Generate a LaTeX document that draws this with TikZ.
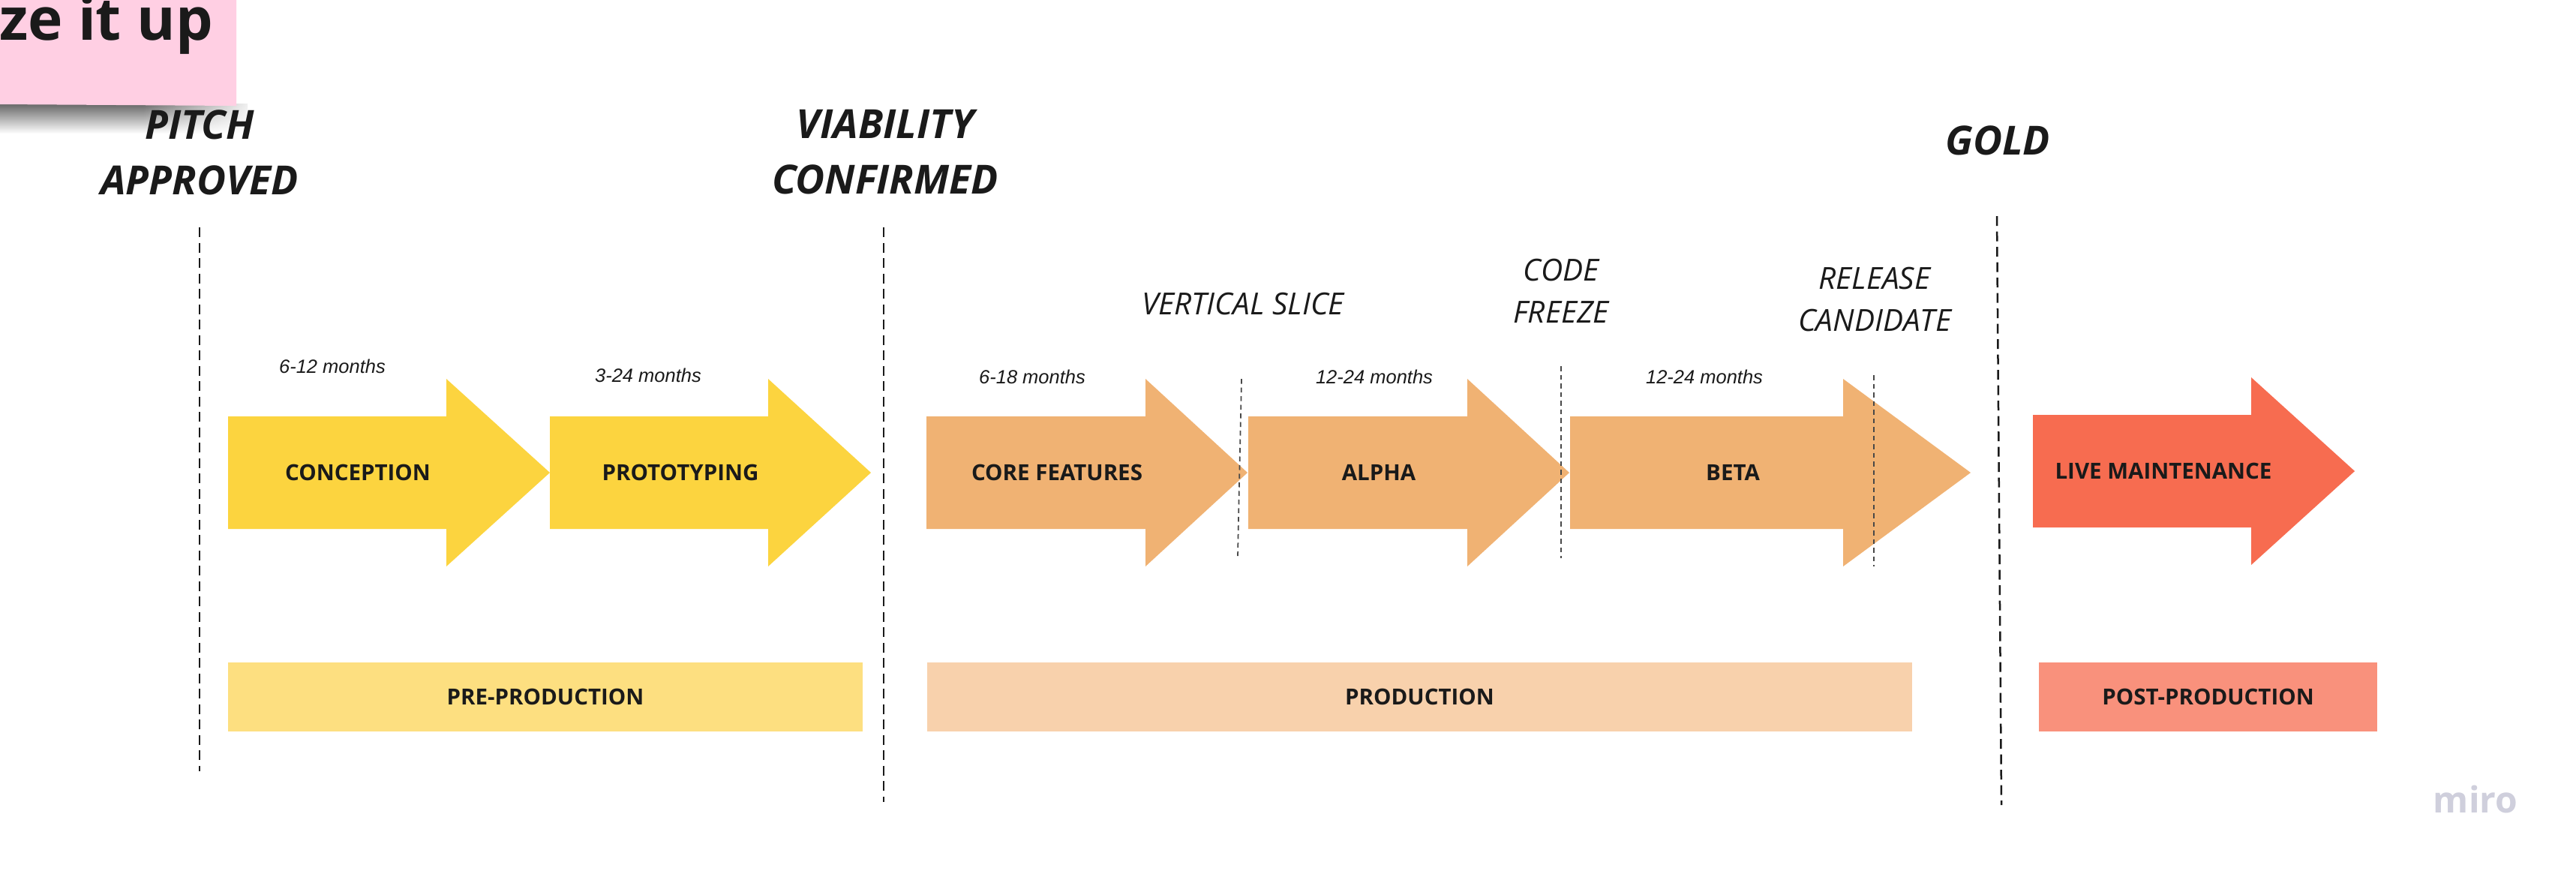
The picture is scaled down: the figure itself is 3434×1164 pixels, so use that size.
\documentclass[tikz,border=0pt]{standalone}
\usepackage{fontspec}
\setmainfont{Open Sans}
\newfontfamily\monthsfont{Liberation Sans}
\usepackage{tikz}
\usetikzlibrary{fadings}

\definecolor{inkblack}{HTML}{1A1A1A}
\definecolor{stickypink}{HTML}{FFCFE3}
\definecolor{preyellow}{HTML}{FCD43F}
\definecolor{prodorange}{HTML}{F0B273}
\definecolor{postred}{HTML}{F76C50}
\definecolor{prebar}{HTML}{FDDF80}
\definecolor{prodbar}{HTML}{F8D1AC}
\definecolor{postbar}{HTML}{F9917C}
\definecolor{mirogrey}{HTML}{CFCFDC}

\newcommand{\phasearrow}[5]{\fill[#1] (#2,#5-75) -- (#3,#5-75) -- (#3,#5-125) -- (#4,#5) -- (#3,#5+125) -- (#3,#5+75) -- (#2,#5+75) -- cycle;}

\tikzset{
	gate/.style={anchor=base, inner sep=0, align=center, text=inkblack, font=\fontsize{10.7}{14.7}\selectfont\bfseries\itshape},
	milestone/.style={anchor=base, inner sep=0, align=center, text=inkblack, font=\fontsize{8.1}{11.2}\selectfont\itshape},
	months/.style={anchor=base, inner sep=0, text=inkblack, font=\fontsize{5.1}{6}\selectfont\monthsfont\itshape},
	phase/.style={anchor=base, inner sep=0, text=inkblack, font=\fontsize{5.9}{7}\selectfont\bfseries},
	stagebar/.style={inner sep=0, minimum height=18.4pt, text=inkblack, font=\fontsize{5.9}{7}\selectfont\bfseries},
	gateline/.style={draw=inkblack, line width=0.5pt, dash pattern=on 2.6pt off 1.5pt},
	sliceline/.style={draw=inkblack!80, line width=0.35pt, dash pattern=on 1.3pt off 1pt},
	stickyshadow/.style={top color=black!60, middle color=black!22, bottom color=white},
}

\begin{document}
\begin{tikzpicture}[x=0.2pt, y=-0.2pt]
	\clip (0,0) rectangle (3434,1164);
	\fill[white] (0,0) rectangle (3434,1164);

	% sticky note
	\shade[stickyshadow] (0,138) rectangle (330,178);
	\shade[left color=white, right color=white, path fading=west] (190,136) rectangle (345,180);
	\fill[stickypink] (0,0) -- (315,0) -- (315,141) -- (0,139) -- cycle;
	\node[anchor=base west, inner sep=0, text=inkblack, font=\fontsize{15.7}{18}\selectfont\bfseries] (sticky) at (-2,53) {ze it up};

	% arrows
	\phasearrow{preyellow}{304}{595}{733}{630}
	\phasearrow{preyellow}{733}{1024}{1161}{630}
	\phasearrow{prodorange}{1235}{1527}{1663}{630}
	\phasearrow{prodorange}{1664}{1956}{2092}{630}
	\phasearrow{prodorange}{2093}{2457}{2627}{630}
	\phasearrow{postred}{2710}{3001}{3139}{628}

	% phase names
	\node[phase] (conception) at (477,640) {CONCEPTION};
	\node[phase] (prototyping) at (907,640) {PROTOTYPING};
	\node[phase] (core) at (1409,640) {CORE FEATURES};
	\node[phase] (alpha) at (1838,640) {ALPHA};
	\node[phase] (beta) at (2310,640) {BETA};
	\node[phase] (live) at (2884,638) {LIVE MAINTENANCE};

	% durations
	\node[months] (m1) at (443,497) {6-12 months};
	\node[months] (m2) at (864,509) {3-24 months};
	\node[months] (m3) at (1376,511) {6-18 months};
	\node[months] (m4) at (1832,511) {12-24 months};
	\node[months] (m5) at (2272,511) {12-24 months};

	% bars
	\node[stagebar, fill=prebar, minimum width=169.2pt] (pre) at (727,929) {PRE-PRODUCTION};
	\node[stagebar, fill=prodbar, minimum width=262.6pt] (prod) at (1892.5,929) {PRODUCTION};
	\node[stagebar, fill=postbar, minimum width=90.2pt] (post) at (2943.5,929) {POST-PRODUCTION};

	% gates
	\node[gate] (pitch) at (266,259) {PITCH\\APPROVED};
	\node[gate] (viable) at (1180,258) {VIABILITY\\CONFIRMED};
	\node[gate] (gold) at (2663,206) {GOLD};

	% milestones
	\node[milestone] (slice) at (1657,419) {VERTICAL SLICE};
	\node[milestone] (freeze) at (2081,430) {CODE\\FREEZE};
	\node[milestone] (candidate) at (2499,441) {RELEASE\\CANDIDATE};

	\coordinate (g1a) at (266,303);
	\coordinate (g1b) at (266,1028);
	\coordinate (g2a) at (1178,303);
	\coordinate (g2b) at (1178,1069);
	\coordinate (g3a) at (2662,288);
	\coordinate (g3b) at (2668,1073);
	\coordinate (s1a) at (1655,505);
	\coordinate (s1b) at (1650,741);
	\coordinate (s2a) at (2081,488);
	\coordinate (s2b) at (2081,744);
	\coordinate (s3a) at (2498,500);
	\coordinate (s3b) at (2498,755);
	\draw[gateline] (g1a) -- (g1b);
	\draw[gateline] (g2a) -- (g2b);
	\draw[gateline] (g3a) -- (g3b);
	\draw[sliceline] (s1a) -- (s1b);
	\draw[sliceline] (s2a) -- (s2b);
	\draw[sliceline] (s3a) -- (s3b);

	\node[anchor=base, inner sep=0, text=mirogrey, font=\fontsize{9.6}{12}\selectfont\bfseries] (miro) at (3300,1083) {miro};
\end{tikzpicture}
\end{document}
